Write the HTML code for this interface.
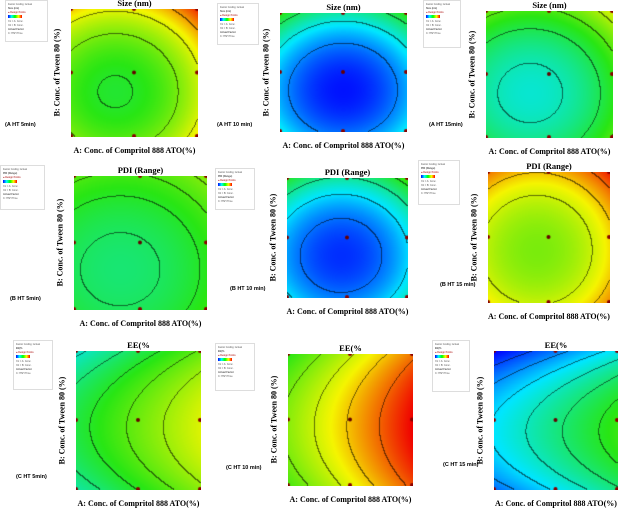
<!DOCTYPE html>
<html><head><meta charset="utf-8"><style>
body{margin:0;width:637px;height:529px;background:#fff;position:relative;overflow:hidden;font-family:"Liberation Serif",serif}
.abs{position:absolute}
.title{font-weight:bold;font-size:8.5px;text-align:center;white-space:nowrap}
.xl{font-weight:bold;font-size:8px;white-space:nowrap;text-align:center}
.yl{font-weight:bold;font-size:8px;white-space:nowrap;transform:rotate(-90deg);transform-origin:center}
.pl{font-family:"Liberation Sans",sans-serif;font-weight:bold;font-size:5.5px;white-space:nowrap}
.lg{border:1px solid #ddd;font-family:"Liberation Sans",sans-serif;font-size:2.5px;color:#555;padding:2px;box-sizing:border-box;line-height:4px;overflow:hidden}
canvas{position:absolute}
</style></head><body>
<div id="root"></div>
<script>
// per-panel data
const panelIds=['A1','A2','A3','B1','B2','B3','C1','C2','C3'];
const titles=['Size (nm)','Size (nm)','Size (nm)','PDI (Range)','PDI (Range)','PDI (Range)','EE(%','EE(%','EE(%'];
const labels=['(A HT 5min)','(A HT 10 min)','(A HT 15min)','(B HT 5min)','(B HT 10 min)','(B HT 15 min)','(C HT 5min)','(C HT 10 min)','(C HT 15 min)'];
const models=['ell','ell','ell','ell','ell','ell','par','par','par'];
const centerU=[0.35,0.5,0.35,0.35,0.45,0.4,0,0,0];
const centerW=[0.35,0.35,0.35,0.3,0.35,0.4,0.45,0.45,0.42];
const baseVal=[0.47,0.02,0.3,0.4,0.05,0.6,0.45,0.62,0.25];
const coefA=[0.52,0.64,0.45,0.22,0.6,0.47,0.27,0.38,0.27];
const coefB=[0.62,0.77,0.54,0.29,0.72,0.56,0.5,0.4,0.75];
const levelStep=[0.12,0.14,0.11,0.06,0.12,0.1,0.08,0.1,0.08];
// layout (not data)
const box=[[71,9,127,128],[280,13,127,119],[486,11,127,127],[74,176,133,134],[287,178,121,120],[488,172,122,131],[76,351,125,139],[288,354,125,132],[494,351,124,139]];
const lab=[[5,122],[217,122],[429,122],[10,296],[230,286],[440,282],[16,474],[226,465],[443,462]];
const leg=[[5,0,43,42],[217,3,42,42],[423,0,38,48],[0,165,45,45],[215,168,40,42],[418,160,42,45],[13,340,40,50],[215,343,40,48],[432,340,38,52]];
function cmap(t){t=Math.max(0,Math.min(1,t));
 const s=[[0,[0,0,255]],[0.25,[0,230,255]],[0.5,[40,230,20]],[0.75,[245,245,0]],[1,[240,0,0]]];
 for(let i=0;i<4;i++){if(t<=s[i+1][0]){const f=(t-s[i][0])/(s[i+1][0]-s[i][0]);return s[i][1].map((c,k)=>Math.round(c+(s[i+1][1][k]-c)*f));}}return s[4][1];}
function val(i,u,w){if(models[i]==='ell')return baseVal[i]+coefA[i]*((u-centerU[i])**2+1.2*(w-centerW[i])**2);
 return baseVal[i]+coefA[i]*u-coefB[i]*(w-centerW[i])**2;}
const root=document.getElementById('root');
panelIds.forEach((id,i)=>{
 const [x,y,W,H]=box[i];
 const cv=document.createElement('canvas');cv.width=W;cv.height=H;cv.style.left=x+'px';cv.style.top=y+'px';
 
 
 root.appendChild(cv);
 const ctx=cv.getContext('2d');const img=ctx.createImageData(W,H);const step=levelStep[i];
 const lv=[];for(let py=0;py<H;py++)for(let px=0;px<W;px++){lv.push(val(i,px/(W-1),1-py/(H-1)));}
 for(let py=0;py<H;py++)for(let px=0;px<W;px++){const v=lv[py*W+px];let c=cmap(v);
  const L=Math.floor(v/step);
  const r=px<W-1?Math.floor(lv[py*W+px+1]/step):L, b=py<H-1?Math.floor(lv[(py+1)*W+px]/step):L;
  if(r!==L||b!==L)c=c.map(k=>k*0.45);
  const o=(py*W+px)*4;img.data[o]=c[0];img.data[o+1]=c[1];img.data[o+2]=c[2];img.data[o+3]=255;}
 ctx.putImageData(img,0,0);
 [0,0.5,1].forEach(a=>[0,0.5,1].forEach(b=>{ctx.fillStyle=(a===0.5&&b===0.5)?'#600':'#8b0000';ctx.beginPath();ctx.arc(a*(W-1),b*(H-1),2,0,7);ctx.fill();}));
 const mk=(cls,name,txt,css)=>{const d=document.createElement('div');d.className='abs '+cls;d.textContent=txt;d.style.cssText+=css;
  
  
  root.appendChild(d);return d;};
 mk('title','chart-title-'+id.toLowerCase(),titles[i],`left:${x}px;width:${W}px;top:${y-11}px`);
 mk('xl','x-axis-title-'+id.toLowerCase(),'A: Conc. of Compritol 888 ATO(%)',`left:${x-20}px;width:${W+40}px;top:${y+H+9}px`);
 mk('yl','y-axis-title-'+id.toLowerCase(),'B: Conc. of Tween 80 (%)',`left:${x-14-60}px;width:120px;top:${y+H/2-5}px;text-align:center`);
 mk('pl','panel-label-'+id.toLowerCase(),labels[i],`left:${lab[i][0]}px;top:${lab[i][1]}px`);
 const l=leg[i];
 const lg=mk('lg','legend-'+id.toLowerCase(),'',`left:${l[0]}px;top:${l[1]}px;width:${l[2]}px;height:${l[3]}px`);
 lg.innerHTML='Factor Coding: Actual<br><b>'+titles[i]+'</b><br><span style="color:#a00">● Design Points</span><br><span style="display:inline-block;width:14px;height:3px;background:linear-gradient(90deg,blue,cyan,lime,yellow,red)"></span><br>X1 = A: Conc.<br>X2 = B: Conc.<br><b>Actual Factor</b><br>C: HSH Time';
});
</script>
</body></html>
